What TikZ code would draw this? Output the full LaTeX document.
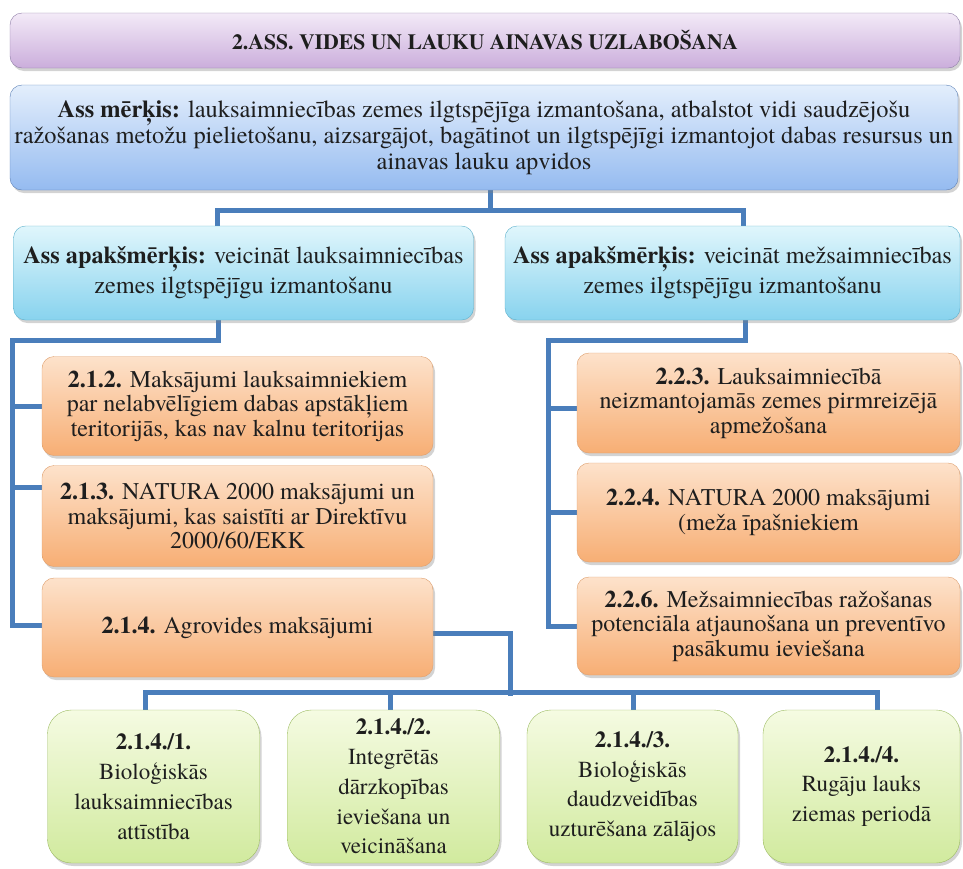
\documentclass[tikz,border=0pt]{standalone}
\usepackage{fontspec}
\setmainfont{texgyretermes}[Extension=.otf, UprightFont=*-regular, BoldFont=*-bold, ItalicFont=*-italic, BoldItalicFont=*-bolditalic]
\usepackage{tikz}
\usetikzlibrary{shadows}
\usetikzlibrary{backgrounds}
\usepackage{xcolor}

\definecolor{linkblue}{HTML}{4A7EBB}
\definecolor{textdark}{HTML}{1E1E1E}
\definecolor{titletop}{HTML}{F3EAF7}
\definecolor{titlebot}{HTML}{CBAEDC}
\definecolor{titleline}{HTML}{8E7CA6}
\definecolor{goaltop}{HTML}{E3EEFC}
\definecolor{goalbot}{HTML}{95BBF0}
\definecolor{goalline}{HTML}{5B7FB5}
\definecolor{subtop}{HTML}{E0F6FC}
\definecolor{subbot}{HTML}{88D3EE}
\definecolor{subline}{HTML}{5AAFCB}
\definecolor{meastop}{HTML}{FDE2CB}
\definecolor{measbot}{HTML}{F7AE74}
\definecolor{measline}{HTML}{DE9E6C}
\definecolor{acttop}{HTML}{F5FBE2}
\definecolor{actbot}{HTML}{D1EA9E}
\definecolor{actline}{HTML}{9CBB62}

\begin{document}
\begin{tikzpicture}[x=1pt, y=-1pt,
  box/.style={rectangle, rounded corners=12pt, align=center, inner sep=0pt, text=textdark,
    drop shadow={shadow xshift=2pt, shadow yshift=-3pt, opacity=0.35}},
  titlebox/.style={box, draw=titleline, top color=titletop, bottom color=titlebot,
    minimum width=950pt, minimum height=55pt, font=\bfseries\fontsize{21.7}{26}\selectfont},
  goalbox/.style={box, draw=goalline, top color=goaltop, bottom color=goalbot,
    minimum width=948pt, minimum height=105pt, font=\fontsize{24.4}{26}\selectfont},
  subbox/.style={box, draw=subline, top color=subtop, bottom color=subbot,
    minimum width=460pt, minimum height=94pt, font=\fontsize{24.3}{30}\selectfont},
  measbox/.style={box, draw=measline, top color=meastop, bottom color=measbot,
    minimum height=99pt, font=\fontsize{24}{24.5}\selectfont},
  actbox/.style={box, rounded corners=24pt, draw=actline, top color=acttop, bottom color=actbot,
    minimum width=212pt, minimum height=153pt, font=\fontsize{23}{29.8}\selectfont},
  link/.style={draw=linkblue, line width=5pt, line cap=rect}
]
\useasboundingbox (0,0) rectangle (963,868);

% Title and overall goal
\node[titlebox] (title) at (485,40.5) {2.ASS. VIDES UN LAUKU AINAVAS UZLABOŠANA};
\node[goalbox] (goal) at (484,137.5) {\textbf{Ass mērķis:} lauksaimniecības zemes ilgtspējīga izmantošana, atbalstot vidi saudzējošu\\
  ražošanas metožu pielietošanu, aizsargājot, bagātinot un ilgtspējīgi izmantojot dabas resursus un\\
  ainavas lauku apvidos};

% Sub goals
\node[subbox] (subL) at (243.5,273) {\textbf{Ass apakšmērķis:} veicināt lauksaimniecības\\ zemes ilgtspējīgu izmantošanu};
\node[subbox, minimum width=455pt] (subR) at (732.5,273) {\textbf{Ass apakšmērķis:} veicināt mežsaimniecības\\ zemes ilgtspējīgu izmantošanu};

% Measures, left column
\node[measbox, minimum width=391pt] (m212) at (237.5,406) {\textbf{2.1.2.} Maksājumi lauksaimniekiem\\ par nelabvēlīgiem dabas apstākļiem\\ teritorijās, kas nav kalnu teritorijas};
\node[measbox, minimum width=391pt, minimum height=101pt] (m213) at (237.5,516) {\textbf{2.1.3.} NATURA 2000 maksājumi un\\ maksājumi, kas saistīti ar Direktīvu\\ 2000/60/EKK};
\node[measbox, minimum width=391pt] (m214) at (237.5,627.5) {\textbf{2.1.4.} Agrovides maksājumi};

% Measures, right column
\node[measbox, minimum width=383pt, minimum height=100pt] (m223) at (768.5,403) {\textbf{2.2.3.} Lauksaimniecībā\\ neizmantojamās zemes pirmreizējā\\ apmežošana};
\node[measbox, minimum width=383pt] (m224) at (768.5,512.5) {\textbf{2.2.4.} NATURA 2000 maksājumi\\ (meža īpašniekiem};
\node[measbox, minimum width=383pt, minimum height=98pt] (m226) at (768.5,626) {\textbf{2.2.6.} Mežsaimniecības ražošanas\\ potenciāla atjaunošana un preventīvo\\ pasākumu ieviešana};

% Agri-environment sub measures
\node[actbox] (a1) at (153.5,786.5) {\textbf{2.1.4./1.}\\ Bioloģiskās\\ lauksaimniecības\\ attīstība};
\node[actbox] (a2) at (393.5,786.5) {\textbf{2.1.4./2.}\\ Integrētās\\ dārzkopības\\ ieviešana un\\ veicināšana};
\node[actbox, minimum width=211pt] (a3) at (632.5,786.5) {\textbf{2.1.4./3.}\\ Bioloģiskās\\ daudzveidības\\ uzturēšana zālājos};
\node[actbox, minimum width=197pt] (a4) at (861.5,786.5) {\textbf{2.1.4./4.}\\ Rugāju lauks\\ ziemas periodā};

\begin{scope}[on background layer]
% goal -> sub goals
\coordinate (jGoal) at (490,210);
\draw[link] (goal.south -| jGoal) -- (jGoal) -| ([xshift=-26.5pt]subL.north);
\draw[link] (jGoal) -| ([xshift=10.5pt]subR.north);

% left tree
\coordinate (jL) at (12,340);
\draw[link] ([xshift=-25pt]subL.south) |- (jL) |- ([yshift=2.5pt]m214.west);
\draw[link] (m212.west -| jL) -- (m212.west);
\draw[link] ([yshift=29pt]m213.west -| jL) -- ([yshift=29pt]m213.west);

% right tree
\coordinate (jR) at (548,340);
\draw[link] ([xshift=12.5pt]subR.south) |- (jR) |- (m226.west);
\draw[link] ([yshift=-5pt]m223.west -| jR) -- ([yshift=-5pt]m223.west);
\draw[link] (m224.west -| jR) -- (m224.west);

% 2.1.4 -> sub measures
\coordinate (jBus) at (510,693);
\draw[link] ([yshift=-5.5pt]m214.east) -| (jBus);
\draw[link] ([xshift=-8.5pt,yshift=17pt]a1.north) -- ([xshift=15.5pt,yshift=17pt]a4.north);
\foreach \a/\dx in {a1/-8.5, a2/-3.5, a3/0.5, a4/15.5}
  \draw[link] ([xshift=\dx pt]\a.north) -- ++(0,-17);
\end{scope}

\end{tikzpicture}
\end{document}
